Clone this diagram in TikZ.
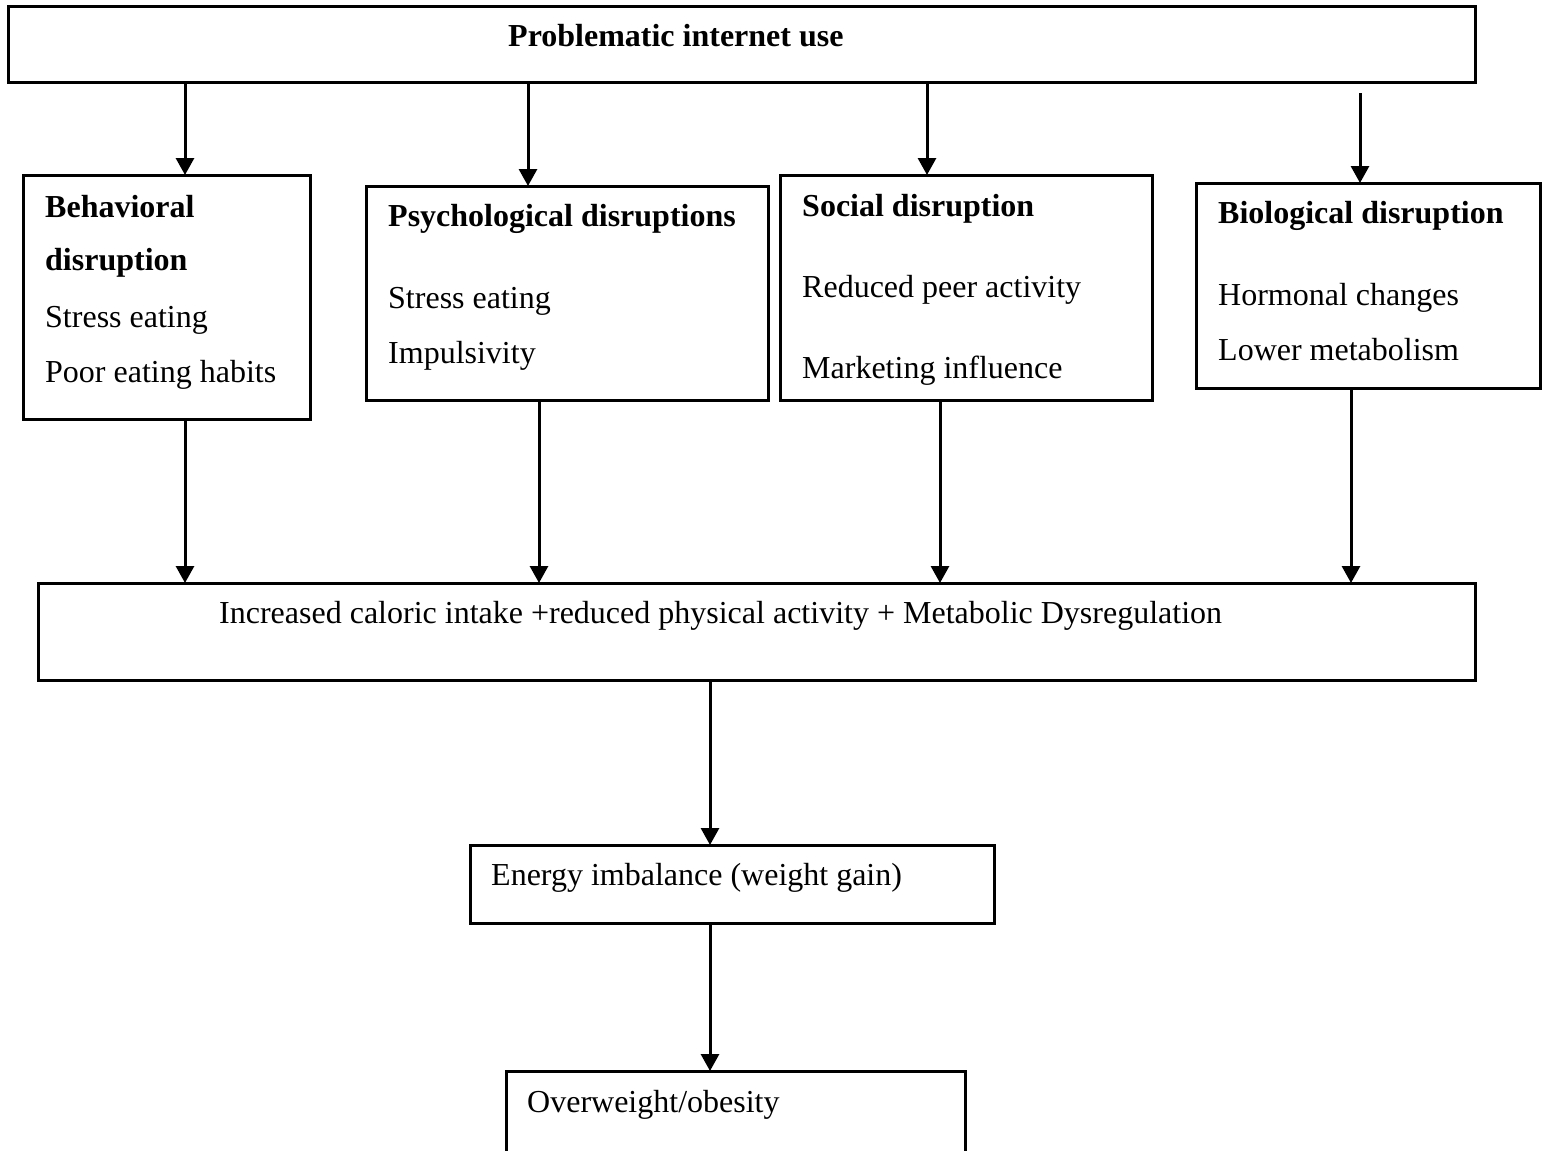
\documentclass[tikz,border=0pt]{standalone}
\usepackage{fontspec}
\setmainfont{Liberation Serif}
\usetikzlibrary{arrows.meta}
\begin{document}
\begin{tikzpicture}[x=1pt,y=-1pt,
  box/.style={draw,line width=3pt,inner sep=0pt,outer sep=0pt},
  lbl/.style={anchor=base west,inner sep=0pt,font=\fontsize{32}{38}\selectfont},
  hd/.style={anchor=base west,inner sep=0pt,font=\fontsize{32}{38}\selectfont\bfseries},
  arr/.style={line width=3pt,-{Triangle[length=17pt,width=18pt]}}]
\clip (0,0) rectangle (1548,1151);
\fill[white] (0,0) rectangle (1548,1151);
% boxes
\node[box,minimum width=1467pt,minimum height=76pt] (top) at (741.5,44) {};
\node[box,minimum width=287pt,minimum height=244pt] (b1) at (166.5,297) {};
\node[box,minimum width=402pt,minimum height=214pt] (b2) at (567,293) {};
\node[box,minimum width=372pt,minimum height=225pt] (b3) at (966,287.5) {};
\node[box,minimum width=344pt,minimum height=205pt] (b4) at (1368,285.5) {};
\node[box,minimum width=1437pt,minimum height=97pt] (mid) at (756.5,631.5) {};
\node[box,minimum width=524pt,minimum height=78pt] (en) at (732,884) {};
\node[box,minimum width=459pt,minimum height=149pt] (ob) at (735.5,1145.5) {};
% texts
\node[hd] (ttop) at (508,46) {Problematic internet use};
\node[hd] (t1a) at (45,217) {Behavioral};
\node[hd] (t1b) at (45,270) {disruption};
\node[lbl] (t1c) at (45,327) {Stress eating};
\node[lbl] (t1d) at (45,382) {Poor eating habits};
\node[hd] (t2a) at (388,226) {Psychological disruptions};
\node[lbl] (t2b) at (388,308) {Stress eating};
\node[lbl] (t2c) at (388,363) {Impulsivity};
\node[hd] (t3a) at (802,216) {Social disruption};
\node[lbl] (t3b) at (802,297) {Reduced peer activity};
\node[lbl] (t3c) at (802,378) {Marketing influence};
\node[hd] (t4a) at (1218,223) {Biological disruption};
\node[lbl] (t4b) at (1218,305) {Hormonal changes};
\node[lbl] (t4c) at (1218,360) {Lower metabolism};
\node[lbl] (tmid) at (219,623) {Increased caloric intake +reduced physical activity + Metabolic Dysregulation};
\node[lbl] (ten) at (491,885) {Energy imbalance (weight gain)};
\node[lbl] (tob) at (527,1112) {Overweight/obesity};
% connector x positions
\coordinate (c1) at (185,0);
\coordinate (c2) at (528,0);
\coordinate (c3) at (927,0);
\coordinate (s4) at (1360,93);
\coordinate (d1) at (185,0);
\coordinate (d2) at (539,0);
\coordinate (d3) at (940,0);
\coordinate (d4) at (1351,0);
\coordinate (e) at (710,0);
% arrows
\draw[arr] (top.south -| c1) -- (b1.north -| c1);
\draw[arr] (top.south -| c2) -- (b2.north -| c2);
\draw[arr] (top.south -| c3) -- (b3.north -| c3);
\draw[arr] (s4) -- (b4.north -| s4);
\draw[arr] (b1.south -| d1) -- (mid.north -| d1);
\draw[arr] (b2.south -| d2) -- (mid.north -| d2);
\draw[arr] (b3.south -| d3) -- (mid.north -| d3);
\draw[arr] (b4.south -| d4) -- (mid.north -| d4);
\draw[arr] (mid.south -| e) -- (en.north -| e);
\draw[arr] (en.south -| e) -- (ob.north -| e);
\end{tikzpicture}
\end{document}
